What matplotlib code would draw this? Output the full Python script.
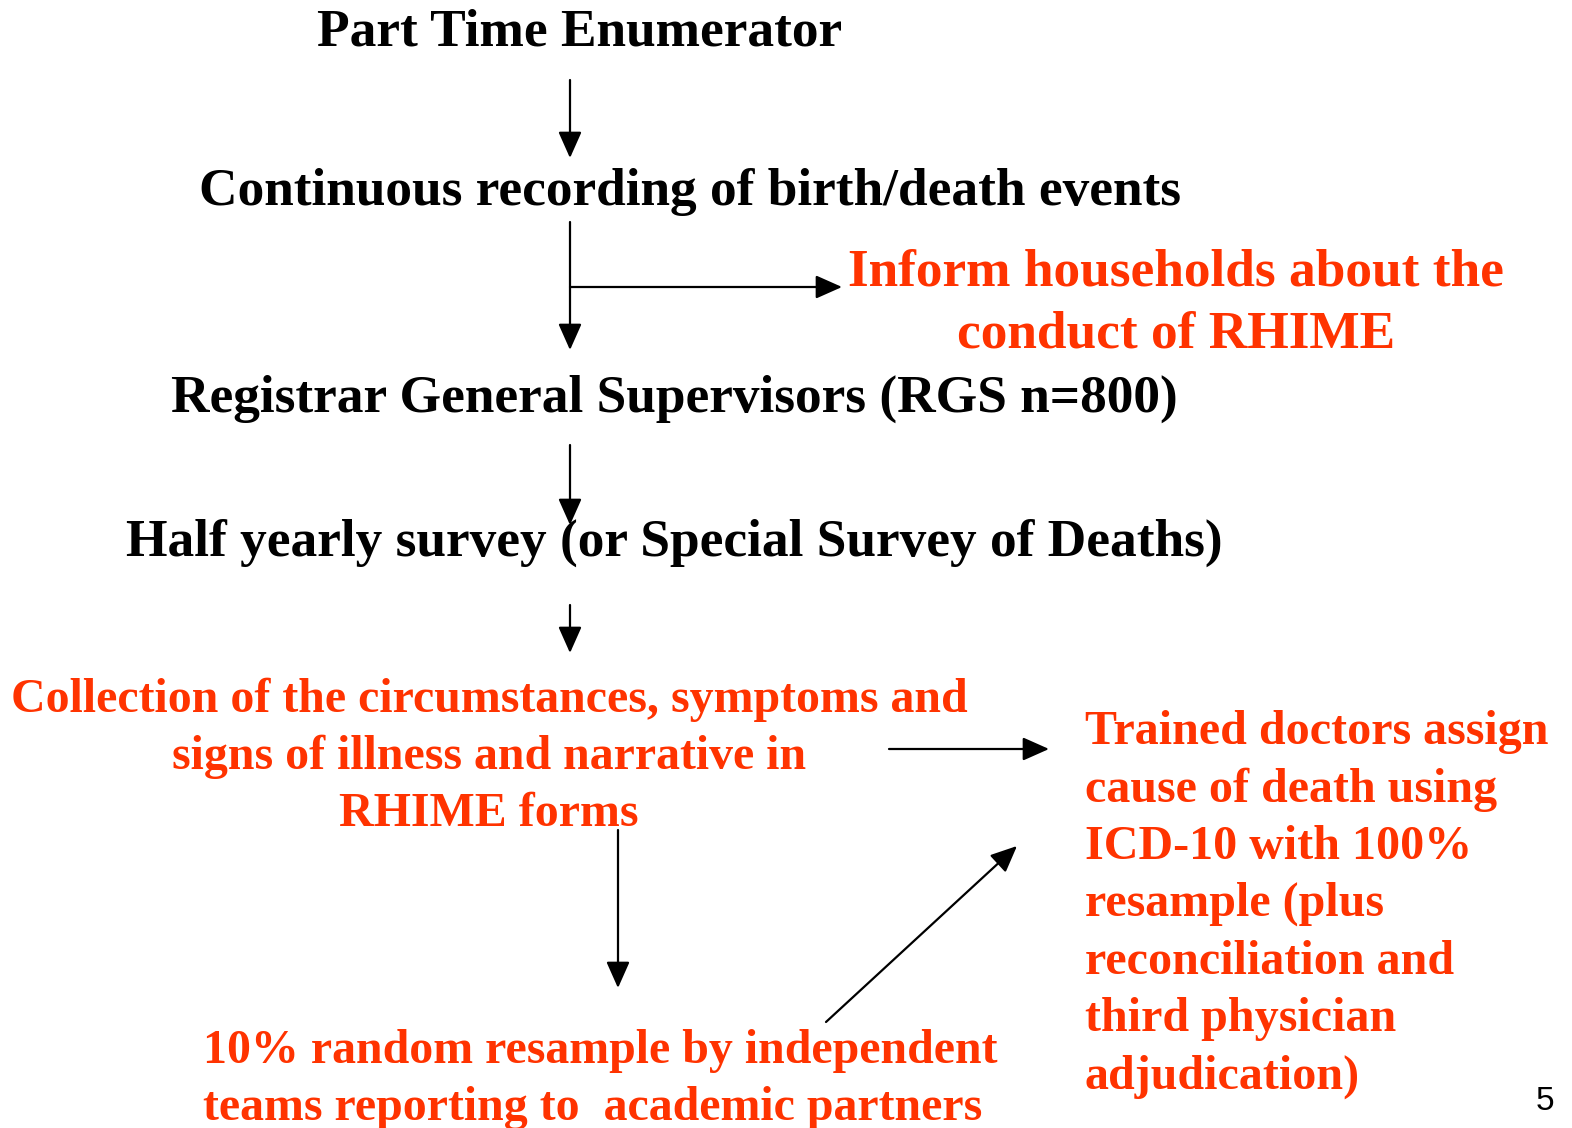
import matplotlib
matplotlib.use("Agg")
import matplotlib.pyplot as plt

RED = "#ff3300"

# black step labels down the main column
black_labels = [
    "Part Time Enumerator",
    "Continuous recording of birth/death events",
    "Registrar General Supervisors (RGS n=800)",
    "Half yearly survey (or Special Survey of Deaths)",
]
inform_lines = ["Inform households about the", "conduct of RHIME"]
collection_lines = [
    "Collection of the circumstances, symptoms and",
    "signs of illness and narrative in",
    "RHIME forms",
]
doctor_lines = [
    "Trained doctors assign",
    "cause of death using",
    "ICD-10 with 100%",
    "resample (plus",
    "reconciliation and",
    "third physician",
    "adjudication)",
]
resample_lines = [
    "10% random resample by independent",
    "teams reporting to  academic partners",
]
page_number = "5"


def main():
    fig = plt.figure(figsize=(15.72, 11.28), dpi=100)
    ax = fig.add_axes([0, 0, 1, 1])
    ax.set_xlim(0, 1572)
    ax.set_ylim(1128, 0)
    ax.axis("off")

    font = dict(family="Liberation Serif", weight="bold")
    dy = 5

    black_pos = [(580, 28), (690, 187), (674, 394), (674, 538)]
    for s, (x, y) in zip(black_labels, black_pos):
        ax.text(x, y + dy, s, ha="center", va="center", fontsize=38.4, color="black", **font)

    for i, s in enumerate(inform_lines):
        ax.text(1176, 267 + dy + i * 63, s, ha="center", va="center", fontsize=38.4, color=RED, **font)

    for i, s in enumerate(collection_lines):
        ax.text(489, 695 + dy + i * 57, s, ha="center", va="center", fontsize=34.5, color=RED, **font)

    for i, s in enumerate(doctor_lines):
        ax.text(1085, 727 + dy + i * 57.4, s, ha="left", va="center", fontsize=34.6, color=RED, **font)

    for i, s in enumerate(resample_lines):
        ax.text(203, 1046 + dy + i * 57, s, ha="left", va="center", fontsize=34.5, color=RED, **font)

    ax.text(1545, 1102, page_number, ha="center", va="center", fontsize=24,
            family="Liberation Sans", color="black")

    arrows = [
        ((570, 80), (570, 158)),
        ((570, 222), (570, 350)),
        ((570, 287), (842, 287)),
        ((570, 445), (570, 525)),
        ((570, 605), (570, 653)),
        ((618, 830), (618, 988)),
        ((889, 749), (1049, 749)),
        ((826, 1022), (1017, 846)),
    ]
    for (x0, y0), (x1, y1) in arrows:
        ax.annotate("", xy=(x1, y1), xytext=(x0, y0),
                    arrowprops=dict(arrowstyle="-|>,head_length=0.9,head_width=0.4",
                                    color="black", lw=1.6, mutation_scale=18,
                                    shrinkA=0, shrinkB=0))

    fig.savefig("out.png", dpi=100)


if __name__ == "__main__":
    main()
